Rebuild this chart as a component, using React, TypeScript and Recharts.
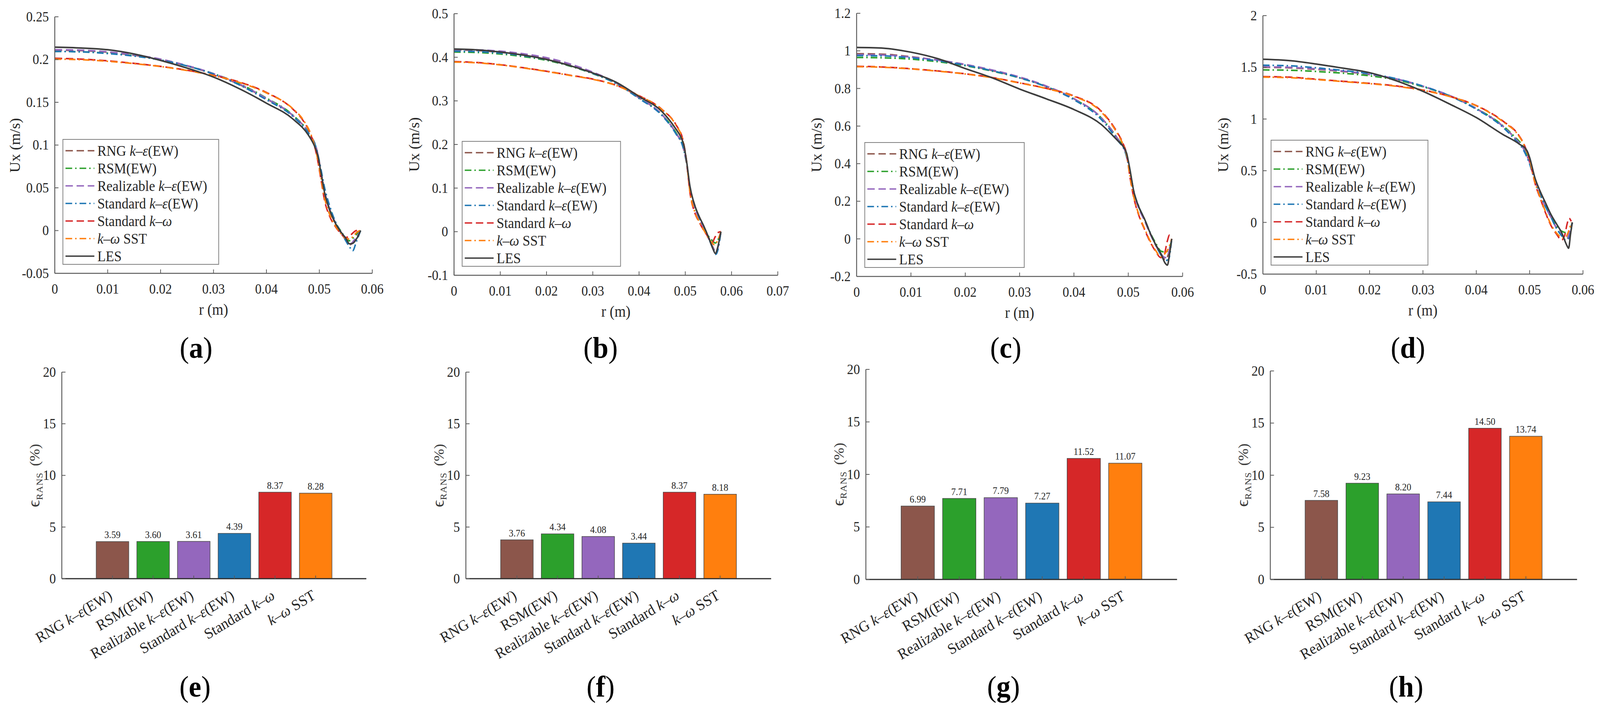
import React from 'react';
import { LineChart, Line, XAxis, YAxis, BarChart, Bar, Cell, LabelList } from 'recharts';

const FONT = '"Liberation Serif", "Times New Roman", "DejaVu Serif", serif';
const TXT = '#262626';
const BOX = '#5a5a5a';

// ---------------- names & ticks ----------------
const seriesNames = ['RNG k–ε(EW)', 'RSM(EW)', 'Realizable k–ε(EW)', 'Standard k–ε(EW)', 'Standard k–ω', 'k–ω SST', 'LES'];
const barCategories = ['RNG k–ε(EW)', 'RSM(EW)', 'Realizable k–ε(EW)', 'Standard k–ε(EW)', 'Standard k–ω', 'k–ω SST'];
const xTicks06 = [0, 0.01, 0.02, 0.03, 0.04, 0.05, 0.06];
const xTicks07 = [0, 0.01, 0.02, 0.03, 0.04, 0.05, 0.06, 0.07];
const aYTicks = [-0.05, 0, 0.05, 0.1, 0.15, 0.2, 0.25];
const bYTicks = [-0.1, 0, 0.1, 0.2, 0.3, 0.4, 0.5];
const cYTicks = [-0.2, 0, 0.2, 0.4, 0.6, 0.8, 1, 1.2];
const dYTicks = [-0.5, 0, 0.5, 1, 1.5, 2];
const barYTicks = [0, 5, 10, 15, 20];

// ---------------- panel (a) ----------------
const aRNG = [[0,0.2110],[0.005,0.2105],[0.01,0.2085],[0.015,0.2050],[0.02,0.2000],[0.025,0.1925],[0.03,0.1830],[0.035,0.1705],[0.04,0.1540],[0.045,0.1345],[0.048,0.1140],[0.0495,0.0950],[0.0503,0.0700],[0.051,0.0460],[0.052,0.0240],[0.053,0.0090],[0.054,-0.0020],[0.055,-0.0110],[0.0558,-0.0165],[0.0566,-0.0120],[0.0578,0]];
const aRSM = [[0,0.2095],[0.005,0.2090],[0.01,0.2075],[0.015,0.2045],[0.02,0.1995],[0.025,0.1925],[0.03,0.1835],[0.035,0.1715],[0.04,0.1550],[0.045,0.1350],[0.048,0.1140],[0.0495,0.0940],[0.0503,0.0690],[0.051,0.0450],[0.052,0.0250],[0.053,0.0100],[0.054,0.0000],[0.055,-0.0085],[0.0556,-0.0120],[0.0565,-0.0080],[0.0572,-0.0030],[0.0578,0]];
const aReal = [[0,0.2115],[0.005,0.2110],[0.01,0.2090],[0.015,0.2055],[0.02,0.2005],[0.025,0.1930],[0.03,0.1835],[0.035,0.1710],[0.04,0.1545],[0.045,0.1345],[0.048,0.1135],[0.0495,0.0945],[0.0503,0.0695],[0.051,0.0455],[0.052,0.0245],[0.053,0.0095],[0.054,-0.0015],[0.055,-0.0105],[0.0558,-0.0160],[0.0566,-0.0110],[0.0578,0]];
const aStdKE = [[0,0.2095],[0.005,0.2090],[0.01,0.2070],[0.015,0.2040],[0.02,0.1995],[0.025,0.1925],[0.03,0.1830],[0.035,0.1700],[0.04,0.1530],[0.045,0.1335],[0.048,0.1130],[0.0495,0.0950],[0.0503,0.0720],[0.051,0.0500],[0.052,0.0280],[0.053,0.0110],[0.054,-0.0010],[0.055,-0.0120],[0.0558,-0.0200],[0.0563,-0.0235],[0.057,-0.0130],[0.0578,0]];
const aKW = [[0,0.2015],[0.005,0.2005],[0.01,0.1985],[0.015,0.1955],[0.02,0.1920],[0.025,0.1875],[0.03,0.1815],[0.035,0.1735],[0.04,0.1615],[0.045,0.1420],[0.047,0.1280],[0.0485,0.1100],[0.0495,0.0880],[0.0503,0.0600],[0.051,0.0350],[0.052,0.0160],[0.053,0.0050],[0.054,-0.0030],[0.055,-0.0080],[0.0556,-0.0070],[0.0563,-0.0030],[0.057,0.0000],[0.0578,0]];
const aSST = [[0,0.2005],[0.005,0.1998],[0.01,0.1980],[0.015,0.1952],[0.02,0.1918],[0.025,0.1872],[0.03,0.1812],[0.035,0.1730],[0.04,0.1610],[0.045,0.1425],[0.047,0.1290],[0.0485,0.1110],[0.0495,0.0890],[0.0503,0.0620],[0.051,0.0380],[0.052,0.0180],[0.053,0.0060],[0.054,-0.0030],[0.055,-0.0090],[0.0558,-0.0100],[0.0566,-0.0050],[0.0573,-0.0010],[0.0578,0]];
const aLES = [[0,0.2145],[0.005,0.2135],[0.01,0.2115],[0.015,0.2065],[0.02,0.1990],[0.025,0.1900],[0.03,0.1795],[0.035,0.1655],[0.04,0.1490],[0.045,0.1305],[0.048,0.1110],[0.049,0.1000],[0.0497,0.0880],[0.0503,0.0680],[0.051,0.0440],[0.052,0.0230],[0.053,0.0090],[0.054,-0.0010],[0.055,-0.0090],[0.0557,-0.0155],[0.0563,-0.0150],[0.057,-0.0100],[0.0578,0]];

// ---------------- panel (b) ----------------
const bRNG = [[0,0.4170],[0.005,0.4155],[0.01,0.4115],[0.015,0.4050],[0.02,0.3960],[0.025,0.3820],[0.03,0.3640],[0.035,0.3410],[0.04,0.3070],[0.045,0.2680],[0.048,0.2260],[0.0495,0.1950],[0.0503,0.1550],[0.051,0.0980],[0.052,0.0580],[0.053,0.0300],[0.054,0.0100],[0.055,-0.0140],[0.056,-0.0360],[0.0566,-0.0470],[0.0571,-0.0340],[0.0577,0]];
const bRSM = [[0,0.4120],[0.005,0.4110],[0.01,0.4075],[0.015,0.4015],[0.02,0.3930],[0.025,0.3800],[0.03,0.3625],[0.035,0.3400],[0.04,0.3060],[0.045,0.2680],[0.048,0.2270],[0.0495,0.1960],[0.0503,0.1570],[0.051,0.1000],[0.052,0.0600],[0.053,0.0320],[0.054,0.0110],[0.055,-0.0100],[0.0558,-0.0200],[0.0565,-0.0260],[0.0571,-0.0180],[0.0577,0]];
const bReal = [[0,0.4180],[0.005,0.4170],[0.01,0.4140],[0.015,0.4080],[0.02,0.3990],[0.025,0.3850],[0.03,0.3660],[0.035,0.3420],[0.04,0.3075],[0.045,0.2680],[0.048,0.2255],[0.0495,0.1945],[0.0503,0.1545],[0.051,0.0975],[0.052,0.0575],[0.053,0.0295],[0.054,0.0095],[0.055,-0.0150],[0.056,-0.0370],[0.0566,-0.0480],[0.0571,-0.0350],[0.0577,0]];
const bStdKE = [[0,0.4140],[0.005,0.4130],[0.01,0.4095],[0.015,0.4035],[0.02,0.3945],[0.025,0.3810],[0.03,0.3630],[0.035,0.3400],[0.04,0.3055],[0.045,0.2660],[0.048,0.2240],[0.0495,0.1940],[0.0503,0.1560],[0.051,0.1010],[0.052,0.0620],[0.053,0.0330],[0.054,0.0110],[0.055,-0.0140],[0.056,-0.0390],[0.0566,-0.0520],[0.0571,-0.0400],[0.0577,0]];
const bKW = [[0,0.3900],[0.005,0.3880],[0.01,0.3830],[0.015,0.3760],[0.02,0.3680],[0.025,0.3590],[0.03,0.3500],[0.035,0.3360],[0.04,0.3120],[0.045,0.2800],[0.048,0.2450],[0.0495,0.2100],[0.0503,0.1600],[0.051,0.0900],[0.052,0.0450],[0.053,0.0220],[0.054,0.0030],[0.055,-0.0130],[0.0558,-0.0250],[0.0564,-0.0130],[0.0571,-0.0020],[0.0577,0]];
const bSST = [[0,0.3890],[0.005,0.3872],[0.01,0.3825],[0.015,0.3755],[0.02,0.3675],[0.025,0.3585],[0.03,0.3495],[0.035,0.3355],[0.04,0.3115],[0.045,0.2795],[0.048,0.2440],[0.0495,0.2080],[0.0503,0.1580],[0.051,0.0920],[0.052,0.0470],[0.053,0.0230],[0.054,0.0040],[0.055,-0.0150],[0.0558,-0.0260],[0.0563,-0.0300],[0.057,-0.0200],[0.0577,0]];
const bLES = [[0,0.4190],[0.005,0.4170],[0.01,0.4120],[0.015,0.4050],[0.02,0.3950],[0.025,0.3810],[0.03,0.3640],[0.035,0.3430],[0.04,0.3100],[0.045,0.2750],[0.048,0.2350],[0.049,0.2180],[0.0497,0.1980],[0.0503,0.1600],[0.051,0.1050],[0.052,0.0620],[0.053,0.0350],[0.054,0.0130],[0.055,-0.0120],[0.056,-0.0400],[0.0565,-0.0500],[0.057,-0.0360],[0.0577,0]];

// ---------------- panel (c) ----------------
const cRNG = [[0,0.9850],[0.005,0.9820],[0.01,0.9690],[0.015,0.9500],[0.02,0.9260],[0.025,0.8950],[0.03,0.8580],[0.035,0.8100],[0.04,0.7450],[0.045,0.6450],[0.048,0.5350],[0.0495,0.4600],[0.0503,0.3600],[0.051,0.2500],[0.052,0.1600],[0.053,0.0980],[0.054,0.0300],[0.055,-0.0300],[0.056,-0.0850],[0.0568,-0.1100],[0.0574,-0.0800],[0.058,0]];
const cRSM = [[0,0.9650],[0.005,0.9630],[0.01,0.9560],[0.015,0.9420],[0.02,0.9210],[0.025,0.8920],[0.03,0.8560],[0.035,0.8090],[0.04,0.7440],[0.045,0.6440],[0.048,0.5340],[0.0495,0.4620],[0.0503,0.3650],[0.051,0.2550],[0.052,0.1650],[0.053,0.1020],[0.054,0.0350],[0.055,-0.0200],[0.056,-0.0650],[0.0568,-0.0700],[0.0575,-0.0550],[0.058,0]];
const cReal = [[0,0.9800],[0.005,0.9780],[0.01,0.9670],[0.015,0.9510],[0.02,0.9280],[0.025,0.8980],[0.03,0.8610],[0.035,0.8120],[0.04,0.7460],[0.045,0.6440],[0.048,0.5330],[0.0495,0.4580],[0.0503,0.3580],[0.051,0.2480],[0.052,0.1580],[0.053,0.0960],[0.054,0.0280],[0.055,-0.0320],[0.056,-0.0800],[0.0568,-0.1000],[0.0574,-0.0750],[0.058,0]];
const cStdKE = [[0,0.9750],[0.005,0.9730],[0.01,0.9630],[0.015,0.9470],[0.02,0.9240],[0.025,0.8940],[0.03,0.8570],[0.035,0.8080],[0.04,0.7400],[0.045,0.6360],[0.048,0.5250],[0.0495,0.4550],[0.0503,0.3600],[0.051,0.2550],[0.052,0.1680],[0.053,0.1050],[0.054,0.0350],[0.055,-0.0300],[0.056,-0.0850],[0.0568,-0.1150],[0.0574,-0.1100],[0.058,0]];
const cKW = [[0,0.9180],[0.005,0.9140],[0.01,0.9050],[0.015,0.8930],[0.02,0.8780],[0.025,0.8580],[0.03,0.8300],[0.035,0.8000],[0.04,0.7600],[0.045,0.6800],[0.048,0.5650],[0.049,0.5100],[0.0497,0.4500],[0.0503,0.3300],[0.051,0.2200],[0.052,0.1200],[0.053,0.0500],[0.054,-0.0150],[0.055,-0.0650],[0.056,-0.1000],[0.0566,-0.0850],[0.0572,-0.0100],[0.0576,0.0200],[0.058,0.0050]];
const cSST = [[0,0.9160],[0.005,0.9125],[0.01,0.9040],[0.015,0.8920],[0.02,0.8770],[0.025,0.8570],[0.03,0.8290],[0.035,0.7990],[0.04,0.7580],[0.045,0.6760],[0.048,0.5600],[0.049,0.5050],[0.0497,0.4450],[0.0503,0.3350],[0.051,0.2250],[0.052,0.1250],[0.053,0.0550],[0.054,-0.0100],[0.055,-0.0600],[0.056,-0.0950],[0.0567,-0.0800],[0.0574,-0.0500],[0.058,0]];
const cLES = [[0,1.0180],[0.005,1.0140],[0.01,0.9930],[0.015,0.9580],[0.02,0.9060],[0.025,0.8560],[0.03,0.7970],[0.035,0.7440],[0.04,0.6880],[0.045,0.6090],[0.048,0.5240],[0.049,0.4940],[0.0497,0.4550],[0.0503,0.3700],[0.051,0.2550],[0.052,0.1660],[0.053,0.1050],[0.054,0.0330],[0.055,-0.0280],[0.056,-0.0780],[0.0568,-0.1300],[0.0572,-0.1400],[0.0576,-0.0800],[0.058,0]];

// ---------------- panel (d) ----------------
const dRNG = [[0,1.5000],[0.005,1.4950],[0.01,1.4800],[0.015,1.4600],[0.02,1.4300],[0.025,1.3850],[0.03,1.3150],[0.035,1.2250],[0.04,1.1000],[0.045,0.9300],[0.047,0.8300],[0.049,0.7000],[0.05,0.5800],[0.051,0.4100],[0.052,0.2700],[0.053,0.1500],[0.054,0.0500],[0.055,-0.0500],[0.056,-0.1200],[0.057,-0.1550],[0.0575,-0.1000],[0.058,0]];
const dRSM = [[0,1.4750],[0.005,1.4720],[0.01,1.4600],[0.015,1.4430],[0.02,1.4180],[0.025,1.3780],[0.03,1.3120],[0.035,1.2250],[0.04,1.1020],[0.045,0.9350],[0.047,0.8380],[0.049,0.7150],[0.05,0.6000],[0.051,0.4250],[0.052,0.2850],[0.053,0.1650],[0.054,0.0600],[0.055,-0.0300],[0.056,-0.0850],[0.057,-0.1000],[0.0575,-0.0700],[0.058,0]];
const dReal = [[0,1.5050],[0.005,1.5000],[0.01,1.4850],[0.015,1.4640],[0.02,1.4340],[0.025,1.3880],[0.03,1.3180],[0.035,1.2270],[0.04,1.1010],[0.045,0.9290],[0.047,0.8280],[0.049,0.6980],[0.05,0.5780],[0.051,0.4080],[0.052,0.2680],[0.053,0.1480],[0.054,0.0480],[0.055,-0.0520],[0.056,-0.1200],[0.057,-0.1500],[0.0575,-0.0950],[0.058,0]];
const dStdKE = [[0,1.5200],[0.005,1.5150],[0.01,1.4950],[0.015,1.4700],[0.02,1.4380],[0.025,1.3900],[0.03,1.3180],[0.035,1.2230],[0.04,1.0950],[0.045,0.9200],[0.047,0.8150],[0.049,0.6850],[0.05,0.5650],[0.051,0.4000],[0.052,0.2650],[0.053,0.1500],[0.054,0.0500],[0.055,-0.0550],[0.056,-0.1300],[0.0568,-0.1700],[0.0574,-0.1500],[0.058,0]];
const dKW = [[0,1.4100],[0.005,1.4050],[0.01,1.3850],[0.015,1.3650],[0.02,1.3450],[0.025,1.3200],[0.03,1.2800],[0.035,1.2200],[0.04,1.1300],[0.045,0.9800],[0.048,0.8400],[0.049,0.7500],[0.05,0.6000],[0.051,0.3800],[0.052,0.2300],[0.053,0.0900],[0.054,-0.0300],[0.055,-0.1100],[0.056,-0.1700],[0.0566,-0.1200],[0.057,-0.0200],[0.0574,0.0400],[0.0578,0.0100]];
const dSST = [[0,1.4050],[0.005,1.4000],[0.01,1.3820],[0.015,1.3620],[0.02,1.3420],[0.025,1.3170],[0.03,1.2770],[0.035,1.2180],[0.04,1.1280],[0.045,0.9750],[0.048,0.8350],[0.049,0.7450],[0.05,0.6050],[0.051,0.3900],[0.052,0.2400],[0.053,0.1000],[0.054,-0.0200],[0.055,-0.1000],[0.056,-0.1450],[0.0566,-0.1500],[0.0572,-0.1000],[0.0578,0]];
const dLES = [[0,1.5780],[0.005,1.5650],[0.01,1.5320],[0.015,1.4920],[0.02,1.4480],[0.025,1.3700],[0.03,1.2680],[0.035,1.1450],[0.04,1.0140],[0.045,0.8500],[0.048,0.7600],[0.0495,0.6940],[0.05,0.6280],[0.051,0.4300],[0.052,0.2980],[0.053,0.1870],[0.054,0.0770],[0.055,-0.0110],[0.056,-0.0990],[0.057,-0.2250],[0.0573,-0.2500],[0.0577,-0.1000],[0.058,0]];

// ---------------- bar values (e)-(h) ----------------
const eVals = [3.59, 3.60, 3.61, 4.39, 8.37, 8.28];
const fVals = [3.76, 4.34, 4.08, 3.44, 8.37, 8.18];
const gVals = [6.99, 7.71, 7.79, 7.27, 11.52, 11.07];
const hVals = [7.58, 9.23, 8.20, 7.44, 14.50, 13.74];

// ---------------- styles ----------------
const seriesColors = ['#8c564b', '#2ca02c', '#9467bd', '#1f77b4', '#d62728', '#ff7f0e', '#3d3d3d'];
const seriesDash = ['20 10', '18 8 4 8', '20 10', '18 8 4 8', '20 10', '18 8 4 8', undefined];
const barColors = ['#8c564b', '#2ca02c', '#9467bd', '#1f77b4', '#d62728', '#ff7f0e'];

// ---------------- layout ----------------
const PAGE_W = 4324;
const PAGE_H = 1826;
const linePanels = [
  { key: 'a', rect: [148, 43, 1006, 700], xDomain: [0, 0.06], xTicks: xTicks06, yDomain: [-0.05, 0.25], yTicks: aYTicks, series: [aRNG, aRSM, aReal, aStdKE, aKW, aSST, aLES], labelPos: [530, 890], legendW: 423 },
  { key: 'b', rect: [1227, 35, 2102, 705], xDomain: [0, 0.07], xTicks: xTicks07, yDomain: [-0.1, 0.5], yTicks: bYTicks, series: [bRNG, bRSM, bReal, bStdKE, bKW, bSST, bLES], labelPos: [1623, 890], legendW: 430 },
  { key: 'c', rect: [2315, 34, 3196, 708], xDomain: [0, 0.06], xTicks: xTicks06, yDomain: [-0.2, 1.2], yTicks: cYTicks, series: [cRNG, cRSM, cReal, cStdKE, cKW, cSST, cLES], labelPos: [2718, 890], legendW: 433 },
  { key: 'd', rect: [3413, 40, 4278, 702], xDomain: [0, 0.06], xTicks: xTicks06, yDomain: [-0.5, 2], yTicks: dYTicks, series: [dRNG, dRSM, dReal, dStdKE, dKW, dSST, dLES], labelPos: [3805, 890], legendW: 426 },
];

const barPanels = [
  { key: 'e', rect: [167, 953, 990, 1482], values: eVals, labelPos: [527, 1758] },
  { key: 'f', rect: [1259, 953, 2084, 1482], values: fVals, labelPos: [1623, 1758] },
  { key: 'g', rect: [2340, 946, 3181, 1484], values: gVals, labelPos: [2712, 1758] },
  { key: 'h', rect: [3433, 950, 4262, 1484], values: hVals, labelPos: [3800, 1758] },
];

// ---------------- helpers ----------------
const fmt = (v: number) => String(parseFloat(Number(v).toFixed(4)));
const toPts = (arr: number[][]) => arr.map(([r, u]) => ({ r, u }));
const splitName = (s: string) => s.split(/(k–ε|k–ω)/).filter((t) => t.length > 0);

const SvgName = ({ s }: { s: string }) => (
  <>
    {splitName(s).map((t, i) =>
      /^k–/.test(t) ? <tspan key={i} fontStyle="italic">{t}</tspan> : <tspan key={i}>{t}</tspan>
    )}
  </>
);
const HtmlName = ({ s }: { s: string }) => (
  <>
    {splitName(s).map((t, i) => (/^k–/.test(t) ? <i key={i}>{t}</i> : <span key={i}>{t}</span>))}
  </>
);

const BottomTick = (props: any) => {
  const { x, y, payload } = props;
  return (
    <g>
      <line x1={x} x2={x} y1={y} y2={y - 10} stroke={BOX} strokeWidth={2} />
      <text x={x} y={y + 52} textAnchor="middle" fontFamily={FONT} fontSize={35} fill={TXT}>{fmt(payload.value)}</text>
    </g>
  );
};
const LeftTick = (props: any) => {
  const { x, y, payload } = props;
  return (
    <g>
      <line x1={x} x2={x + 10} y1={y} y2={y} stroke={BOX} strokeWidth={2} />
      <text x={x - 16} y={y + 12} textAnchor="end" fontFamily={FONT} fontSize={35} fill={TXT}>{fmt(payload.value)}</text>
    </g>
  );
};
const TopTick = (props: any) => {
  const { x, y } = props;
  return <line x1={x} x2={x} y1={y} y2={y + 10} stroke={BOX} strokeWidth={2} />;
};
const RightTick = (props: any) => {
  const { x, y } = props;
  return <line x1={x} x2={x - 10} y1={y} y2={y} stroke={BOX} strokeWidth={2} />;
};
const CatTick = (props: any) => {
  const { x, y, payload } = props;
  const ax = x + 2;
  const ay = y + 50;
  return (
    <g>
      <line x1={x} x2={x} y1={y} y2={y - 8} stroke={BOX} strokeWidth={2} />
      <text x={ax} y={ay} transform={`rotate(-30 ${ax} ${ay})`} textAnchor="end" fontFamily={FONT} fontSize={39} fill={TXT}>
        <SvgName s={payload.value} />
      </text>
    </g>
  );
};

const PanelLabel = ({ pos, letter }: { pos: number[]; letter: string }) => (
  <div style={{ position: 'absolute', left: pos[0], top: pos[1], transform: 'translate(-50%,-50%)', fontFamily: FONT, fontSize: 76, color: '#000', whiteSpace: 'nowrap', lineHeight: 1 }}>
    (<b>{letter}</b>)
  </div>
);

const LegendBox = ({ left, top, width }: { left: number; top: number; width: number }) => (
  <div style={{ position: 'absolute', left, top, width, height: 322, border: '2.5px solid #808080', background: '#fff', boxSizing: 'border-box', fontFamily: FONT, fontSize: 37, color: TXT }}>
    {seriesNames.map((n, i) => (
      <div key={n} style={{ position: 'absolute', left: 0, top: 6 + i * 45, height: 44, display: 'flex', alignItems: 'center', whiteSpace: 'nowrap' }}>
        <svg width={90} height={44} style={{ display: 'block' }}>
          <line x1={6} x2={84} y1={22} y2={22} stroke={seriesColors[i]} strokeWidth={3.5} strokeDasharray={seriesDash[i]} />
        </svg>
        <span style={{ marginLeft: 2 }}><HtmlName s={n} /></span>
      </div>
    ))}
  </div>
);

function LinePanel({ p }: { p: any }) {
  const [L, T, R, B] = p.rect;
  const ML = 170, MT = 20, MR = 30, MB = 130, YW = 100, XH = 90;
  const w = R - L + ML + MR;
  const h = B - T + MT + MB;
  const midY = (T + B) / 2;
  const midX = (L + R) / 2;
  return (
    <>
      <div style={{ position: 'absolute', left: L - ML, top: T - MT, width: w, height: h }}>
        <LineChart width={w} height={h} margin={{ top: MT, right: MR, bottom: MB - XH, left: ML - YW }}>
          <XAxis dataKey="r" type="number" domain={p.xDomain} ticks={p.xTicks} allowDataOverflow interval={0} height={XH}
            tickSize={0} tickMargin={0} tickLine={false} axisLine={{ stroke: BOX, strokeWidth: 2.5 }} tick={(t: any) => <BottomTick {...t} />} />
          <XAxis xAxisId="top" orientation="top" dataKey="r" type="number" domain={p.xDomain} ticks={p.xTicks} allowDataOverflow interval={0} height={0}
            tickSize={0} tickMargin={0} tickLine={false} axisLine={{ stroke: BOX, strokeWidth: 2.5 }} tick={(t: any) => <TopTick {...t} />} />
          <YAxis type="number" domain={p.yDomain} ticks={p.yTicks} allowDataOverflow interval={0} width={YW}
            tickSize={0} tickMargin={0} tickLine={false} axisLine={{ stroke: BOX, strokeWidth: 2.5 }} tick={(t: any) => <LeftTick {...t} />} />
          <YAxis yAxisId="right" orientation="right" type="number" domain={p.yDomain} ticks={p.yTicks} allowDataOverflow interval={0} width={0}
            tickSize={0} tickMargin={0} tickLine={false} axisLine={{ stroke: BOX, strokeWidth: 2.5 }} tick={(t: any) => <RightTick {...t} />} />
          {p.series.map((s: number[][], i: number) => (
            <Line key={seriesNames[i]} data={toPts(s)} dataKey="u" type="monotone" stroke={seriesColors[i]} strokeWidth={4}
              strokeDasharray={seriesDash[i]} dot={false} activeDot={false} isAnimationActive={false} />
          ))}
        </LineChart>
      </div>
      <div style={{ position: 'absolute', left: L - 108, top: midY, transform: 'translate(-50%,-50%) rotate(-90deg)', fontFamily: FONT, fontSize: 39, color: TXT, whiteSpace: 'nowrap' }}>Ux (m/s)</div>
      <div style={{ position: 'absolute', left: midX, top: B + 92, transform: 'translate(-50%,-50%)', fontFamily: FONT, fontSize: 39, color: TXT, whiteSpace: 'nowrap' }}>r (m)</div>
      <LegendBox left={L + 21} top={B - 22 - 322} width={p.legendW} />
      <PanelLabel pos={p.labelPos} letter={p.key} />
    </>
  );
}

function BarPanel({ p }: { p: any }) {
  const [L, T, R, B] = p.rect;
  const ML = 130, MT = 20, MR = 30, MB = 270, YW = 80, XH = 100;
  const w = R - L + ML + MR;
  const h = B - T + MT + MB;
  const pw = R - L;
  const pad = Math.round(pw * 0.1);
  const data = barCategories.map((c, i) => ({ name: c, value: p.values[i] }));
  return (
    <>
      <div style={{ position: 'absolute', left: L - ML, top: T - MT, width: w, height: h }}>
        <BarChart width={w} height={h} data={data} margin={{ top: MT, right: MR, bottom: MB - XH, left: ML - YW }} barCategoryGap="10%">
          <XAxis dataKey="name" type="category" padding={{ left: pad, right: pad }} interval={0} height={XH}
            tickSize={0} tickMargin={0} tickLine={false} axisLine={{ stroke: '#2e2e2e', strokeWidth: 3 }} tick={(t: any) => <CatTick {...t} />} />
          <XAxis xAxisId="top" orientation="top" dataKey="name" type="category" padding={{ left: pad, right: pad }} interval={0} height={0}
            tickSize={0} tickMargin={0} tickLine={false} axisLine={{ stroke: BOX, strokeWidth: 2.5 }} tick={(t: any) => <TopTick {...t} />} />
          <YAxis type="number" domain={[0, 20]} ticks={barYTicks} allowDataOverflow interval={0} width={YW}
            tickSize={0} tickMargin={0} tickLine={false} axisLine={{ stroke: BOX, strokeWidth: 2.5 }} tick={(t: any) => <LeftTick {...t} />} />
          <YAxis yAxisId="right" orientation="right" type="number" domain={[0, 20]} ticks={barYTicks} allowDataOverflow interval={0} width={0}
            tickSize={0} tickMargin={0} tickLine={false} axisLine={{ stroke: BOX, strokeWidth: 2.5 }} tick={(t: any) => <RightTick {...t} />} />
          <Bar dataKey="value" isAnimationActive={false} stroke="#4a4a4a" strokeWidth={1.5}>
            {data.map((d, i) => (
              <Cell key={d.name} fill={barColors[i]} />
            ))}
            <LabelList dataKey="value" position="top" offset={9} formatter={(v: any) => Number(v).toFixed(2)}
              fontFamily={FONT} fontSize={25} fill={TXT} />
          </Bar>
        </BarChart>
      </div>
      <div style={{ position: 'absolute', left: L - 75, top: (T + B) / 2, transform: 'translate(-50%,-50%) rotate(-90deg)', fontFamily: FONT, color: '#3a3a3a', whiteSpace: 'nowrap', lineHeight: 1 }}>
        <span style={{ fontSize: 46 }}>ϵ</span>
        <span style={{ fontSize: 25, position: 'relative', top: 8, letterSpacing: 1 }}>RANS</span>
        <span style={{ fontSize: 38, marginLeft: 16 }}>(%)</span>
      </div>
      <PanelLabel pos={p.labelPos} letter={p.key} />
    </>
  );
}

export default function App() {
  const vw = typeof window !== 'undefined' ? window.innerWidth : PAGE_W;
  const vh = typeof window !== 'undefined' ? window.innerHeight : PAGE_H;
  const sx = vw / PAGE_W;
  const sy = vh / PAGE_H;
  return (
    <div style={{ position: 'fixed', left: 0, top: 0, width: vw, height: vh, overflow: 'hidden', background: '#fff' }}>
      <style>{'html,body{margin:0;padding:0;overflow:hidden;background:#fff;}'}</style>
      <div style={{ position: 'absolute', left: 0, top: 0, width: PAGE_W, height: PAGE_H, transform: `scale(${sx}, ${sy})`, transformOrigin: '0 0' }}>
        {linePanels.map((p) => (
          <LinePanel key={p.key} p={p} />
        ))}
        {barPanels.map((p) => (
          <BarPanel key={p.key} p={p} />
        ))}
      </div>
    </div>
  );
}
